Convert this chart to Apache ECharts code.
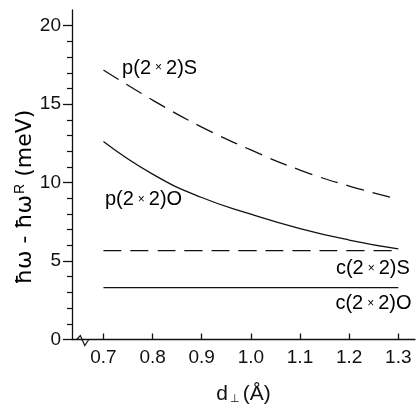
<!DOCTYPE html>
<html>
<head>
<meta charset="utf-8">
<script src="https://cdn.jsdelivr.net/npm/echarts@6/dist/echarts.min.js"></script>
<style>html,body{margin:0;padding:0;background:#fff;}#c{width:417px;height:411px;}</style>
</head>
<body>
<div id="c"></div>
<script>
// Data
const dPerp = [0.7, 0.8, 0.9, 1.0, 1.1, 1.2, 1.3];
const p22S = [17.18, 15.26, 13.54, 12.08, 10.8, 9.78, 8.95];
const p22O = [12.62, 10.54, 9.05, 7.99, 7.07, 6.34, 5.77];
const c22S = [5.66, 5.66, 5.66, 5.66, 5.66, 5.66, 5.66];
const c22O = [3.3, 3.3, 3.3, 3.3, 3.3, 3.3, 3.3];
const xTicks = [0.7, 0.8, 0.9, 1.0, 1.1, 1.2, 1.3];
const yTicks = [0, 5, 10, 15, 20];

const FONT = '"Liberation Sans", Arial, sans-serif';
const INK = '#111';
const chart = echarts.init(document.getElementById('c'));

function pairs(ys) { return dPerp.map((x, i) => [x, ys[i]]); }
function lineSeries(name, ys, dashed) {
  return {
    name: name, type: 'line', data: pairs(ys), smooth: 0.5, symbol: 'none',
    lineStyle: { color: INK, width: 1.3, type: dashed ? [18, 9] : 'solid' },
    silent: true, animation: false
  };
}

chart.setOption({
  animation: false,
  grid: { left: 72, right: 2, top: 10, bottom: 71.5 },
  xAxis: {
    type: 'value', min: 0.636, max: 1.334,
    axisLine: { lineStyle: { color: INK, width: 1.3 } },
    axisTick: { inside: true, length: 6, customValues: xTicks, lineStyle: { color: INK, width: 1.3 } },
    axisLabel: { customValues: xTicks, formatter: v => v.toFixed(1), fontSize: 19, fontFamily: FONT, color: INK, margin: 9 },
    splitLine: { show: false },
    name: '{d|d}{s|⊥}{d|(Å)}', nameLocation: 'middle', nameGap: 44,
    nameTextStyle: { rich: {
      d: { fontSize: 21, fontFamily: FONT, color: INK },
      s: { fontSize: 11, fontFamily: FONT, color: INK, verticalAlign: 'bottom', padding: [8, 3, 0, 2] }
    } }
  },
  yAxis: {
    type: 'value', min: 0, max: 21, interval: 5,
    axisLine: { show: true, lineStyle: { color: INK, width: 1.3 } },
    axisTick: { show: true, inside: false, length: 9, customValues: yTicks, lineStyle: { color: INK, width: 1.3 } },
    minorTick: { show: true, splitNumber: 5, length: 5, lineStyle: { color: INK, width: 1.2 } },
    axisLabel: { customValues: yTicks, fontSize: 19, fontFamily: FONT, color: INK, margin: 11 },
    splitLine: { show: false }
  },
  series: [
    lineSeries('p(2×2)S', p22S, true),
    lineSeries('p(2×2)O', p22O, false),
    lineSeries('c(2×2)S', c22S, true),
    lineSeries('c(2×2)O', c22O, false)
  ]
});

// Annotations placed through the chart's own coordinate conversion
function px(x, y) { return chart.convertToPixel({ gridIndex: 0 }, [x, y]); }
const labRich = {
  a: { fontSize: 20, fontFamily: FONT, color: INK },
  x: { fontSize: 12, fontFamily: FONT, color: INK, padding: [0, 4, 0, 4] }
};
function lab(text, x, y, align) {
  const p = px(x, y);
  return { type: 'text', x: p[0], y: p[1], silent: true,
    style: { text: text, rich: labRich, align: align, verticalAlign: 'middle' } };
}
const zero = px(0.66, 0);
chart.setOption({
  graphic: [
    lab('{a|p(2}{x|×}{a|2)S}', 0.738, 17.3, 'left'),
    lab('{a|p(2}{x|×}{a|2)O}', 0.703, 8.9, 'left'),
    lab('{a|c(2}{x|×}{a|2)S}', 1.3235, 4.5, 'right'),
    lab('{a|c(2}{x|×}{a|2)O}', 1.327, 2.3, 'right'),
    { type: 'rect', shape: { x: zero[0] - 5, y: zero[1] - 2, width: 9, height: 4 }, style: { fill: '#fff' }, silent: true },
    { type: 'polyline', silent: true,
      shape: { points: [[zero[0] - 7, zero[1]], [zero[0] - 3.5, zero[1] - 4], [zero[0] + 1, zero[1] + 6], [zero[0] + 5, zero[1]]] },
      style: { stroke: INK, lineWidth: 1.2, fill: null } },
    { type: 'text', x: 25, y: 197, rotation: Math.PI / 2, silent: true,
      style: { text: '{m|ħω - ħω}{r|R}{m| (meV)}', align: 'center', verticalAlign: 'middle',
        rich: {
          m: { fontSize: 22, fontFamily: '"DejaVu Sans", sans-serif', color: INK },
          r: { fontSize: 14, fontFamily: FONT, color: INK, verticalAlign: 'top', padding: [0, 0, 10, 1] }
        } } }
  ]
});
</script>
</body>
</html>
